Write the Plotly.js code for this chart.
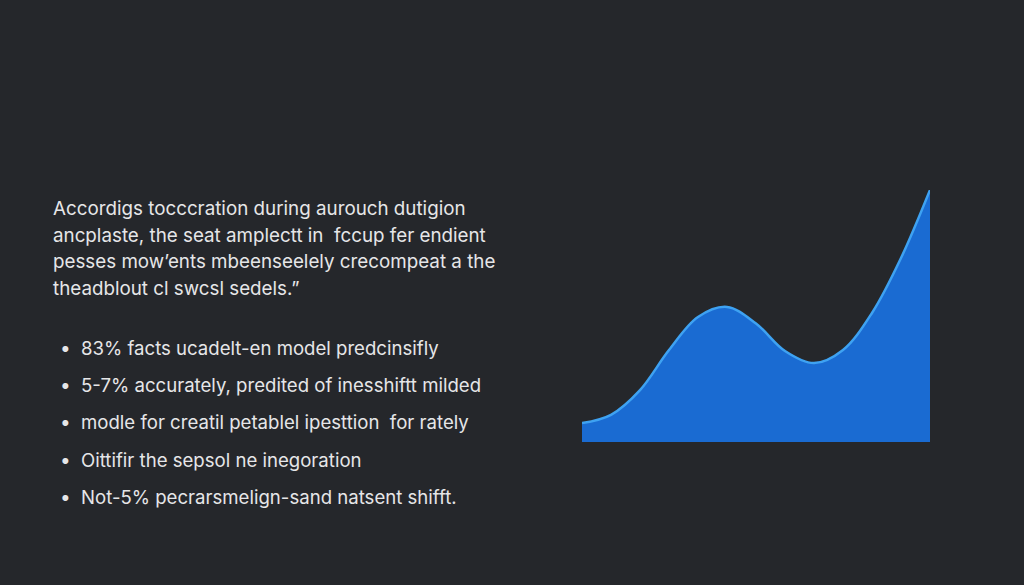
<!DOCTYPE html>
<html>
<head>
<meta charset="utf-8">
<script src="https://cdn.plot.ly/plotly-3.0.1.min.js"></script>
<style>
  html, body { margin: 0; padding: 0; background: #25272b; }
  #chart { width: 1024px; height: 585px; }
</style>
</head>
<body>
<div id="chart"></div>
<script>

// curve samples (x across the panel 0-100, y height of the area 0-100)
var xVals = [0, 8.33, 16.67, 25, 33.33, 41.67, 50, 58.33, 66.67, 75, 83.33, 91.67, 100]
var yVals = [7.5, 10.8, 20.6, 36.5, 49.6, 53.6, 47.0, 36.1, 31.3, 36.5, 51.2, 73.0, 100]

var paraLines = [
    'Accordigs tocccration during aurouch dutigion',
    'ancplaste, the seat amplectt in  fccup fer endient',
    'pesses mow\u2019ents mbeenseelely crecompeat a the',
    'theadblout cl swcsl sedels.\u201d'
]

var bulletLines = [
    '83% facts ucadelt-en model predcinsifly',
    '5-7% accurately, predited of inesshiftt milded',
    'modle for creatil petablel ipesttion  for rately',
    'Oittifir the sepsol ne inegoration',
    'Not-5% pecrarsmelign-sand natsent shifft.'
]

var W = 1024, H = 585
var textColor = '#e6e6e8'
var fontFam = 'Inter, "Open Sans", sans-serif'

var annotations = []

// paragraph
var paraY = [208, 235, 261, 288]
for (var i=0;i<paraLines.length;i++) {
    annotations.push({
        xref: 'paper', yref: 'paper',
        x: 51/W, y: 1 - paraY[i]/H,
        xanchor: 'left', yanchor: 'middle',
        text: paraLines[i], showarrow: false,
        font: {family: fontFam, size: 18.8, color: textColor},
    })
}

// bullet list
var bulletY = [348, 385, 422, 460, 497]
for (var i=0;i<bulletLines.length;i++) {
    annotations.push({
        xref: 'paper', yref: 'paper',
        x: 58/W, y: 1 - bulletY[i]/H,
        xanchor: 'left', yanchor: 'middle',
        text: '\u2022', showarrow: false,
        font: {family: fontFam, size: 19, color: textColor},
    })
    annotations.push({
        xref: 'paper', yref: 'paper',
        x: 79/W, y: 1 - bulletY[i]/H,
        xanchor: 'left', yanchor: 'middle',
        text: bulletLines[i], showarrow: false,
        font: {family: fontFam, size: 18.6, color: textColor},
    })
}

var trace = {
    x: xVals,
    y: yVals,
    type: 'scatter',
    mode: 'lines',
    line: {shape: 'spline', smoothing: 1, color: '#3ea2f2', width: 2.5},
    fill: 'tozeroy',
    fillcolor: '#1a6bd2',
    hoverinfo: 'none',
}

var layout = {
    width: W,
    height: H,
    showlegend: false,
    margin: {l:0, r:0, t:0, b:0},
    paper_bgcolor: '#25272b',
    plot_bgcolor: 'rgba(0,0,0,0)',
    xaxis: {
        domain: [582/W, 930/W],
        range: [0, 100],
        visible: false,
        fixedrange: true,
    },
    yaxis: {
        domain: [1 - 442/H, 1 - 190/H],
        range: [0, 100],
        visible: false,
        fixedrange: true,
    },
    annotations: annotations,
}

Plotly.newPlot('chart', [trace], layout, {displayModeBar: false, staticPlot: true})

</script>
</body>
</html>
